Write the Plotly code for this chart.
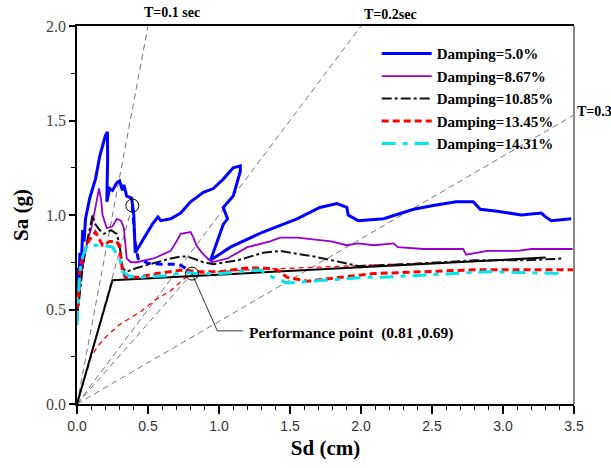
import plotly.graph_objects as go

# ---------------- data ----------------
sd_5 = [0.0, 0.01, 0.015, 0.02, 0.03, 0.04, 0.05, 0.06, 0.09, 0.13, 0.16, 0.20, 0.214, 0.216, 0.212, 0.21,
        0.23, 0.25, 0.28, 0.30, 0.32, 0.33, 0.35, 0.385, 0.40, 0.405, 0.41, 0.45, 0.49, 0.53, 0.57, 0.59,
        0.66, 0.73, 0.80, 0.89, 0.96, 1.03, 1.10, 1.15, 1.15, 1.10, 1.03, 1.06, 1.03, 0.99, 0.94, 1.08,
        1.31, 1.55, 1.71, 1.83, 1.90, 1.91, 1.98, 2.16, 2.37, 2.51, 2.67, 2.79, 2.84, 2.96, 3.13, 3.27,
        3.30, 3.34, 3.48]
sa_5 = [0.58, 0.72, 0.65, 0.80, 0.73, 0.92, 0.86, 0.98, 1.09, 1.19, 1.31, 1.42, 1.44, 1.30, 1.15, 1.07,
        1.14, 1.13, 1.17, 1.18, 1.13, 1.16, 1.10, 1.09, 1.00, 0.88, 0.80, 0.85, 0.90, 0.95, 0.99, 0.97,
        0.98, 1.01, 1.07, 1.12, 1.14, 1.19, 1.25, 1.26, 1.23, 1.10, 1.04, 0.98, 0.95, 0.86, 0.76, 0.83,
        0.91, 0.98, 1.04, 1.06, 1.04, 1.00, 0.97, 0.98, 1.03, 1.05, 1.07, 1.07, 1.03, 1.02, 1.00, 1.01,
        0.99, 0.97, 0.98]

sd_867 = [0.0, 0.01, 0.03, 0.05, 0.08, 0.10, 0.13, 0.155, 0.17, 0.18, 0.21, 0.25, 0.28, 0.31, 0.33, 0.34,
          0.35, 0.38, 0.42, 0.54, 0.66, 0.70, 0.73, 0.80, 0.82, 0.84, 0.88, 0.92, 0.95, 1.06, 1.20, 1.36,
          1.43, 1.55, 1.68, 1.79, 1.90, 1.98, 2.09, 2.23, 2.26, 2.44, 2.68, 2.72, 2.74, 2.89, 3.10, 3.20,
          3.32, 3.49]
sa_867 = [0.42, 0.55, 0.68, 0.77, 0.88, 0.93, 1.04, 1.14, 1.08, 1.00, 0.93, 0.94, 0.98, 0.97, 0.93, 0.85,
          0.77, 0.75, 0.75, 0.77, 0.81, 0.86, 0.90, 0.91, 0.88, 0.84, 0.80, 0.77, 0.75, 0.77, 0.83, 0.86,
          0.88, 0.88, 0.87, 0.86, 0.84, 0.85, 0.84, 0.85, 0.83, 0.82, 0.82, 0.82, 0.79, 0.81, 0.81, 0.82,
          0.82, 0.82]

sd_1085 = [0.0, 0.02, 0.04, 0.06, 0.09, 0.11, 0.13, 0.16, 0.19, 0.24, 0.28, 0.30, 0.32, 0.35, 0.42, 0.56,
           0.66, 0.73, 0.78, 0.89, 0.96, 1.13, 1.31, 1.43, 1.67, 1.86, 1.98, 2.33, 2.80, 3.15, 3.43]
sa_1085 = [0.45, 0.60, 0.72, 0.82, 0.92, 1.00, 0.95, 0.92, 0.90, 0.92, 0.90, 0.84, 0.72, 0.70, 0.72, 0.75,
           0.77, 0.78, 0.78, 0.75, 0.74, 0.76, 0.80, 0.81, 0.78, 0.75, 0.73, 0.74, 0.76, 0.76, 0.77]

sd_1345 = [0.0, 0.01, 0.02, 0.05, 0.08, 0.13, 0.18, 0.23, 0.28, 0.30, 0.32, 0.34, 0.42, 0.56, 0.75, 0.85,
           1.01, 1.20, 1.31, 1.41, 1.48, 1.62, 1.86, 2.09, 2.44, 2.80, 3.15, 3.50]
sa_1345 = [0.45, 0.60, 0.72, 0.80, 0.86, 0.91, 0.84, 0.86, 0.86, 0.83, 0.71, 0.67, 0.67, 0.69, 0.71, 0.70,
           0.70, 0.72, 0.72, 0.71, 0.67, 0.65, 0.67, 0.69, 0.70, 0.71, 0.71, 0.71]

sd_1431 = [0.0, 0.01, 0.02, 0.04, 0.07, 0.12, 0.18, 0.25, 0.30, 0.32, 0.36, 0.42, 0.66, 0.75, 0.82, 1.01,
           1.29, 1.31, 1.38, 1.48, 1.57, 1.67, 2.02, 2.14, 2.89, 3.43]
sa_1431 = [0.42, 0.55, 0.70, 0.78, 0.84, 0.84, 0.84, 0.83, 0.77, 0.70, 0.68, 0.67, 0.68, 0.70, 0.69, 0.69,
           0.71, 0.70, 0.67, 0.64, 0.645, 0.65, 0.67, 0.67, 0.70, 0.69]

# bilinear capacity curve
sd_cap = [0.0, 0.25, 3.30]
sa_cap = [0.0, 0.655, 0.775]

# thin red demand curve through the performance point
sd_dem = [0.0, 0.05, 0.10, 0.15, 0.21, 0.30, 0.45, 0.55, 0.66, 0.75, 0.81, 1.20, 1.57, 2.20, 3.15]
sa_dem = [0.0, 0.13, 0.25, 0.31, 0.36, 0.42, 0.49, 0.55, 0.60, 0.66, 0.69, 0.71, 0.72, 0.74, 0.765]

# blue dashed branch
sd_bd = [0.39, 0.40, 0.41, 0.43, 0.50, 0.60, 0.72, 0.78]
sa_bd = [1.05, 0.95, 0.85, 0.77, 0.745, 0.74, 0.74, 0.71]

# constant-period radial lines (slope Sa/Sd)
period_labels = ["T=0.1 sec", "T=0.2sec", "T=0.3"]
period_slopes = [4.0, 1.0, 0.437]
period_label_pos = [(0.67, 2.07), (2.21, 2.06), (3.505, 1.545)]

perf_point = (0.81, 0.69)
blue_point = (0.39, 1.05)
perf_text = "Performance point  (0.81 ,0.69)"
leader_sd = [0.81, 0.988, 1.17]
leader_sa = [0.69, 0.387, 0.387]

legend_names = ["Damping=5.0%", "Damping=8.67%", "Damping=10.85%", "Damping=13.45%", "Damping=14.31%"]

SERIF = "Liberation Serif"
SANS = "Liberation Sans"
XMAX, YMAX = 3.5, 2.0

fig = go.Figure()

# radial lines
for s in period_slopes:
    x_end = min(XMAX, YMAX / s)
    fig.add_trace(go.Scatter(x=[0, x_end], y=[0, s * x_end], mode="lines",
                             line=dict(color="#777777", width=1, dash="6px,4px"),
                             showlegend=False, hoverinfo="skip"))
for pt in (blue_point, perf_point):
    fig.add_trace(go.Scatter(x=[0, pt[0]], y=[0, pt[1]], mode="lines",
                             line=dict(color="#777777", width=1, dash="6px,4px"),
                             showlegend=False, hoverinfo="skip"))

# thin red demand
fig.add_trace(go.Scatter(x=sd_dem, y=sa_dem, mode="lines",
                         line=dict(color="#ff0000", width=1.3, dash="5px,4px"),
                         showlegend=False, hoverinfo="skip"))
# capacity
fig.add_trace(go.Scatter(x=sd_cap, y=sa_cap, mode="lines",
                         line=dict(color="black", width=2), showlegend=False, hoverinfo="skip"))

series = [
    (sd_5, sa_5, dict(color="#0000ff", width=3)),
    (sd_867, sa_867, dict(color="#9900cc", width=1.8)),
    (sd_1085, sa_1085, dict(color="#111111", width=2, dash="10px,3px,3px,3px")),
    (sd_1345, sa_1345, dict(color="#ff0000", width=3, dash="7px,4px")),
    (sd_1431, sa_1431, dict(color="#00e5ee", width=3, dash="14px,7px,5px,7px")),
]
for i, (xs, ys, ln) in enumerate(series):
    fig.add_trace(go.Scatter(x=xs, y=ys, mode="lines", name="<b>" + legend_names[i] + "</b>",
                             line=ln, legendgroup=f"g{i}"))

# blue dashed branch
fig.add_trace(go.Scatter(x=sd_bd, y=sa_bd, mode="lines",
                         line=dict(color="#0000ff", width=3, dash="7px,5px"),
                         showlegend=False, hoverinfo="skip"))

# leader and circles
fig.add_trace(go.Scatter(x=leader_sd, y=leader_sa, mode="lines",
                         line=dict(color="#333333", width=1), showlegend=False, hoverinfo="skip"))
fig.add_trace(go.Scatter(x=[perf_point[0], blue_point[0]], y=[perf_point[1], blue_point[1]],
                         mode="markers", marker=dict(symbol="circle-open", size=13,
                                                     color="black", line=dict(width=1)),
                         showlegend=False, hoverinfo="skip"))

# annotations (paper coordinates so they may sit outside the axes range)
for lab, (ax_, ay_) in zip(period_labels, period_label_pos):
    fig.add_annotation(x=ax_ / XMAX, y=ay_ / YMAX, xref="paper", yref="paper",
                       text="<b>" + lab + "</b>", showarrow=False,
                       xanchor="left" if lab == "T=0.3" else "center", yanchor="middle",
                       font=dict(family=SERIF, size=14, color="black"))
fig.add_annotation(x=leader_sd[-1] + 0.03, y=leader_sa[-1], text="<b>" + perf_text + "</b>",
                   showarrow=False, xanchor="left", yanchor="middle", yshift=-2,
                   font=dict(family=SERIF, size=15.5, color="black"))

# right frame (grey)
fig.add_shape(type="line", xref="paper", yref="paper", x0=1, x1=1, y0=0, y1=1,
              line=dict(color="#888888", width=2))

fig.update_layout(
    width=611, height=468,
    margin=dict(l=77, r=37, t=26, b=60),
    plot_bgcolor="white", paper_bgcolor="white",
    font=dict(family=SERIF, color="black"),
    legend=dict(x=0.603, y=0.97, xanchor="left", yanchor="top",
                bgcolor="rgba(0,0,0,0)", borderwidth=0, tracegroupgap=0,
                font=dict(family=SERIF, size=15, color="black"), itemwidth=50),
    xaxis=dict(range=[0, XMAX], tickmode="array", tickvals=[0, 0.5, 1, 1.5, 2, 2.5, 3, 3.5],
               ticktext=["0.0", "0.5", "1.0", "1.5", "2.0", "2.5", "3.0", "3.5"],
               ticks="outside", ticklen=8, tickwidth=1.5, tickcolor="black",
               minor=dict(dtick=0.1, ticks="outside", ticklen=4, tickcolor="black", tickwidth=1),
               showgrid=False, zeroline=False, showline=True, linecolor="black", linewidth=1.5,
               mirror=True,
               tickfont=dict(family=SANS, size=14, color="#333333"),
               title=dict(text="<b>Sd (cm)</b>", font=dict(family=SERIF, size=21), standoff=8)),
    yaxis=dict(range=[0, YMAX], tickmode="array", tickvals=[0, 0.5, 1, 1.5, 2],
               ticktext=["0.0", "0.5", "1.0", "1.5", "2.0"],
               ticks="outside", ticklen=6, tickwidth=1.5, tickcolor="black",
               minor=dict(dtick=0.25, ticks="outside", ticklen=4, tickcolor="black", tickwidth=1),
               showgrid=False, zeroline=False, showline=True, linecolor="black", linewidth=1.5,
               tickfont=dict(family=SERIF, size=16, color="#444444"),
               title=dict(text="<b>Sa (g)</b>", font=dict(family=SERIF, size=21), standoff=12)),
)

fig.write_html("out.html")
